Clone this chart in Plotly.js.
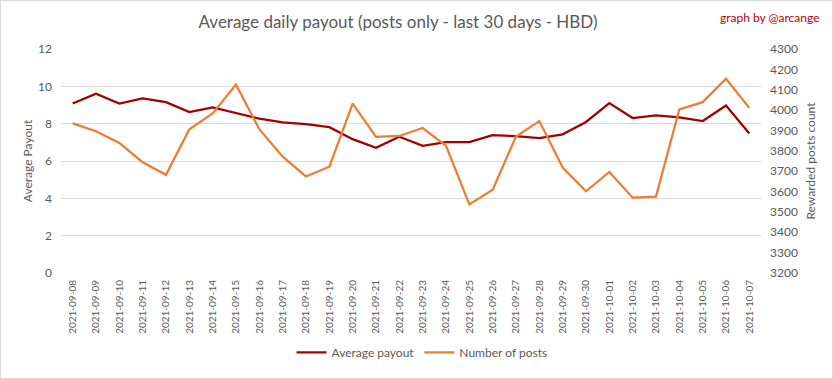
<!DOCTYPE html>
<html>
<head>
<meta charset="utf-8">
<script src="https://cdn.plot.ly/plotly-3.0.1.min.js"></script>
<style>
html,body{margin:0;padding:0;background:#fff;}
#wrap{position:relative;width:833px;height:379px;}
#chart{width:833px;height:379px;}
#frame{position:absolute;left:0;top:0;width:833px;height:379px;box-sizing:border-box;border:1px solid #d9d9d9;pointer-events:none;}
</style>
</head>
<body>
<div id="wrap"><div id="chart"></div><div id="frame"></div></div>
<script>
const dates = ["2021-09-08","2021-09-09","2021-09-10","2021-09-11","2021-09-12","2021-09-13","2021-09-14","2021-09-15","2021-09-16","2021-09-17","2021-09-18","2021-09-19","2021-09-20","2021-09-21","2021-09-22","2021-09-23","2021-09-24","2021-09-25","2021-09-26","2021-09-27","2021-09-28","2021-09-29","2021-09-30","2021-10-01","2021-10-02","2021-10-03","2021-10-04","2021-10-05","2021-10-06","2021-10-07"];
const averagePayout = [9.08,9.61,9.08,9.35,9.15,8.62,8.87,8.55,8.27,8.07,7.97,7.81,7.17,6.71,7.30,6.81,7.01,7.01,7.38,7.33,7.22,7.43,8.09,9.10,8.30,8.44,8.34,8.14,8.97,7.47];
const numberOfPosts = [3935,3896,3839,3744,3682,3906,3984,4125,3906,3771,3674,3722,4032,3868,3873,3912,3825,3537,3609,3870,3946,3718,3601,3696,3570,3575,4003,4039,4154,4011];

const font = "Lato, 'Liberation Sans', Arial, sans-serif";
const grey = "#595959";

const traces = [
  {x: dates, y: averagePayout, type: 'scatter', mode: 'lines', name: 'Average payout',
   line: {color: '#a00000', width: 2.25}, yaxis: 'y'},
  {x: dates, y: numberOfPosts, type: 'scatter', mode: 'lines', name: 'Number of posts',
   line: {color: '#ed7d31', width: 2.25}, yaxis: 'y2'}
];

const layout = {
  width: 833, height: 379,
  margin: {l: 61, r: 72, t: 49, b: 104},
  paper_bgcolor: '#fff', plot_bgcolor: '#fff',
  font: {family: font, color: grey, size: 12},
  showlegend: true,
  title: {text: 'Average daily payout (posts only - last 30 days - HBD)', x: 398/833, xanchor: 'center',
          y: 1 - 22/379, yanchor: 'middle', yref: 'container', font: {family: font, size: 17, color: grey}},
  xaxis: {type: 'category', range: [-0.5, 29.5], tickangle: -90, showgrid: false, showline: false,
          zeroline: false, ticks: '', ticklabelstandoff: 4, tickfont: {size: 10, color: grey}, automargin: false},
  yaxis: {range: [0, 12], dtick: 2, showgrid: true, gridcolor: '#d9d9d9', gridwidth: 1, zeroline: false,
          showline: false, ticks: '', ticklabelstandoff: 8, tickfont: {size: 12, color: grey}, automargin: false,
          title: {text: 'Average Payout', font: {size: 12, color: grey}, standoff: 2}},
  yaxis2: {range: [3200, 4300], dtick: 100, overlaying: 'y', side: 'right', showgrid: false, zeroline: false,
           showline: false, ticks: '', ticklabelstandoff: 8, tickfont: {size: 12, color: grey}, automargin: false,
           title: {text: 'Rewarded posts count', font: {size: 12, color: grey}, standoff: 9}},
  legend: {orientation: 'h', x: (422-61)/700, xanchor: 'center', y: -80/226, yanchor: 'middle',
           font: {size: 12, color: grey}, bgcolor: 'rgba(0,0,0,0)'},
  annotations: [{text: 'graph by @arcange', xref: 'paper', yref: 'paper', x: 1 + 61/700, xanchor: 'right',
                 y: 1 + 32/226, yanchor: 'middle', showarrow: false, font: {family: font, size: 12, color: '#c00000'}}]
};

Plotly.newPlot('chart', traces, layout, {displayModeBar: false, staticPlot: true});
</script>
</body>
</html>
